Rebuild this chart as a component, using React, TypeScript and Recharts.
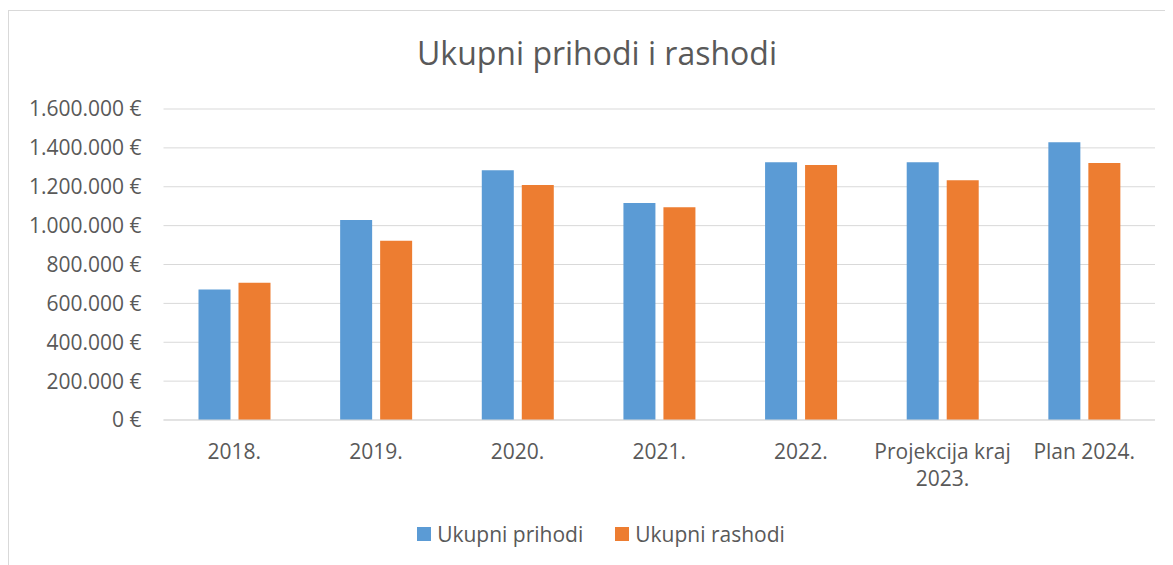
import React from "react";
import { BarChart, Bar, XAxis, YAxis, CartesianGrid, Legend } from "recharts";

const categories = ["2018.", "2019.", "2020.", "2021.", "2022.", "Projekcija kraj\n2023.", "Plan 2024."];
const prihodi = [672000, 1029000, 1285000, 1116000, 1326000, 1326000, 1429000];
const rashodi = [706000, 922000, 1209000, 1094000, 1312000, 1233000, 1322000];
const yTicks = [0, 200000, 400000, 600000, 800000, 1000000, 1200000, 1400000, 1600000];
const seriesNames = ["Ukupni prihodi", "Ukupni rashodi"];
const title = "Ukupni prihodi i rashodi";

const data = categories.map((c, i) => ({ name: c, prihodi: prihodi[i], rashodi: rashodi[i] }));

const FONT = "'Open Sans', sans-serif";
const TEXT = "#595959";
const BLUE = "#5B9BD5";
const ORANGE = "#ED7D31";

const fmt = (v: number) => String(v).replace(/\B(?=(\d{3})+(?!\d))/g, ".") + " €";

const XTick = (props: any) => {
  const { x, y, payload } = props;
  const lines = String(payload.value).split("\n");
  return (
    <text x={x} y={y} textAnchor="middle" fill={TEXT} fontSize={21} fontFamily={FONT}>
      {lines.map((l, i) => (
        <tspan key={i} x={x} dy={i === 0 ? 39 : 27}>
          {l}
        </tspan>
      ))}
    </text>
  );
};

const LegendContent = (props: any) => {
  const { payload } = props;
  return (
    <div style={{ display: "flex", justifyContent: "center", alignItems: "center", height: 30, width: 1184 }}>
      {(payload || []).map((p: any, i: number) => (
        <div key={i} style={{ display: "flex", alignItems: "center", marginLeft: i === 0 ? 0 : 32 }}>
          <div style={{ width: 14, height: 14, background: p.color, marginRight: 6 }} />
          <span style={{ fontFamily: FONT, fontSize: 21, color: TEXT, lineHeight: "30px" }}>{p.value}</span>
        </div>
      ))}
    </div>
  );
};

export default function App() {
  return (
    <>
      <style>{`body{overflow:hidden}`}</style>
      <div
        style={{
          position: "relative",
          marginTop: 2,
          width: 1184,
          height: 554,
          border: "1px solid #D9D9D9",
          background: "#fff",
        }}
      >
        <div
          style={{
            position: "absolute",
            left: 588,
            top: 25.6,
            transform: "translateX(-50%)",
            whiteSpace: "nowrap",
            fontFamily: FONT,
            fontSize: 32,
            lineHeight: "32px",
            color: TEXT,
          }}
        >
          {title}
        </div>
        <BarChart
          width={1184}
          height={554}
          data={data}
          margin={{ top: 98, right: 38, bottom: 16, left: 0 }}
          barGap={8}
          barSize={32}
        >
          <CartesianGrid vertical={false} stroke="#D9D9D9" strokeWidth={1} />
          <XAxis
            dataKey="name"
            height={99}
            interval={0}
            axisLine={{ stroke: "#D9D9D9" }}
            tickLine={false}
            tickSize={0}
            tickMargin={0}
            tick={<XTick />}
          />
          <YAxis
            width={154.5}
            domain={[0, 1600000]}
            ticks={yTicks}
            axisLine={false}
            tickLine={false}
            tickSize={0}
            tickMargin={22}
            tickFormatter={fmt}
            tick={{ fill: TEXT, fontSize: 21, fontFamily: FONT }}
          />
          <Legend verticalAlign="bottom" content={<LegendContent />} wrapperStyle={{ left: 0, width: 1184 }} />
          <Bar dataKey="prihodi" name={seriesNames[0]} fill={BLUE} isAnimationActive={false} />
          <Bar dataKey="rashodi" name={seriesNames[1]} fill={ORANGE} isAnimationActive={false} />
        </BarChart>
      </div>
    </>
  );
}
